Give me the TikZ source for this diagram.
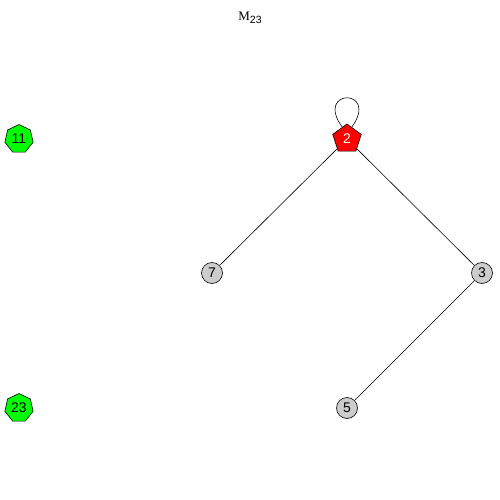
\documentclass[tikz,border=0pt]{standalone}
\usepackage{fontspec}
\setmainfont{Liberation Sans}
\newfontfamily\serifm{Liberation Serif}
\usetikzlibrary{shapes.geometric}
\begin{document}
\begin{tikzpicture}[x=1pt,y=-1pt,
  vbase/.style={draw=black,line width=0.6pt,inner sep=0pt,font=\fontsize{14}{14}\selectfont},
  grey/.style={vbase,circle,fill=black!20,minimum size=21pt},
  red/.style={vbase,regular polygon,regular polygon sides=5,fill=red,text=white,minimum size=30pt},
  green/.style={vbase,regular polygon,regular polygon sides=7,fill=green,minimum size=29pt},
  edge/.style={draw=black,line width=0.6pt}]
\useasboundingbox (0,0) rectangle (500,500);
\node (title) at (250,18) {{\serifm\fontsize{13}{13}\selectfont M}\raisebox{-0.5ex}{\fontsize{10.5}{10}\selectfont 23}};
\node[red] (n2) at (347,139) {2};
\node[green] (n11) at (19,139) {11};
\node[grey] (n7) at (212,273) {7};
\node[grey] (n3) at (482,273) {3};
\node[grey] (n5) at (347,408) {5};
\node[green] (n23) at (19,408) {23};
\draw[edge] (n2) -- (n7);
\draw[edge] (n2) -- (n3);
\draw[edge] (n3) -- (n5);
\draw[edge] (n2.112) .. controls (314,88) and (380,88) .. (n2.68);
\end{tikzpicture}
\end{document}
